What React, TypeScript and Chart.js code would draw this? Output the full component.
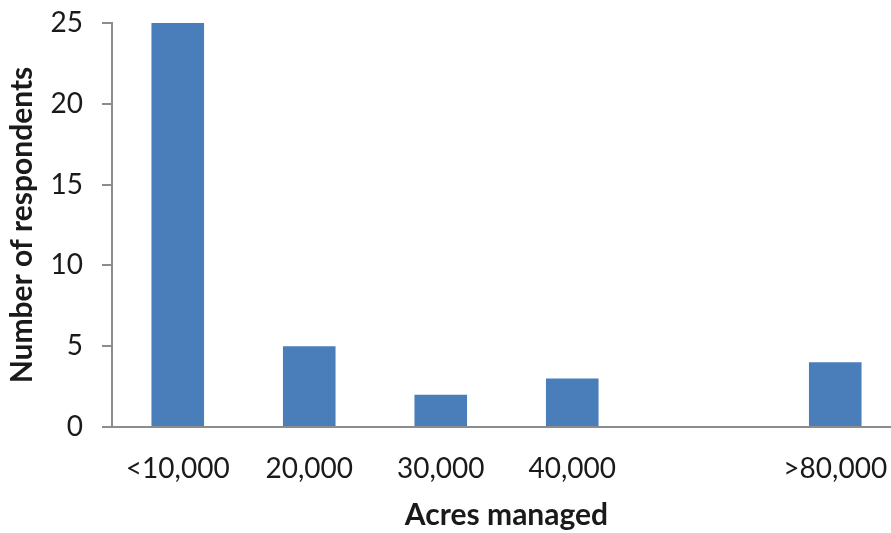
import React, { useEffect, useRef } from "react";
import { Chart, registerables } from "chart.js";

Chart.register(...registerables);

// Survey responses grouped by acreage managed
const categories: string[] = ["<10,000", "20,000", "30,000", "40,000", "", ">80,000"];
const respondents: (number | null)[] = [25, 5, 2, 3, null, 4];
const yTicks: number[] = [0, 5, 10, 15, 20, 25];

const FONT = "Lato, 'Open Sans', sans-serif";
const TEXT = "#1a1a1a";
const AXIS = "#8c8c8c";
const BAR = "#4a7ebb";

export default function App() {
  const ref = useRef<HTMLCanvasElement | null>(null);

  useEffect(() => {
    if (!ref.current) return;
    const chart = new Chart(ref.current, {
      type: "bar",
      data: {
        labels: categories,
        datasets: [
          {
            data: respondents,
            backgroundColor: BAR,
            borderWidth: 0,
            categoryPercentage: 1,
            barPercentage: 0.4,
          },
        ],
      },
      options: {
        responsive: false,
        animation: false,
        layout: { padding: { top: 23, right: 1, bottom: 0, left: 0 } },
        plugins: { legend: { display: false }, tooltip: { enabled: false } },
        scales: {
          x: {
            grid: { display: false, drawTicks: false },
            border: { display: true, color: AXIS, width: 2 },
            ticks: {
              color: TEXT,
              font: { family: FONT, size: 28 },
              padding: 25,
              maxRotation: 0,
              autoSkip: false,
            },
            title: {
              display: true,
              text: "Acres managed",
              color: TEXT,
              font: { family: FONT, size: 30, weight: "bold", lineHeight: 1 },
              padding: { top: 0, bottom: 3 },
            },
            afterFit: (s: any) => {
              s.height = 106;
              s.paddingLeft = 0;
              s.paddingRight = 0;
            },
          },
          y: {
            min: 0,
            max: 25,
            afterBuildTicks: (s: any) => {
              s.ticks = yTicks.map((v) => ({ value: v }));
            },
            grid: {
              drawOnChartArea: false,
              drawTicks: true,
              tickLength: 10,
              color: AXIS,
              lineWidth: 2,
            },
            border: { display: true, color: AXIS, width: 2 },
            ticks: {
              color: TEXT,
              font: { family: FONT, size: 28 },
              padding: 19,
            },
            title: {
              display: true,
              text: "Number of respondents",
              color: TEXT,
              font: { family: FONT, size: 30, weight: "bold", lineHeight: 1 },
              padding: { top: 7, bottom: 0 },
            },
            afterFit: (s: any) => {
              s.width = 112;
              s.paddingTop = 0;
              s.paddingBottom = 0;
            },
          },
        },
      },
    });
    return () => chart.destroy();
  }, []);

  return (
    <div
      style={{
        position: "fixed",
        left: 0,
        top: 0,
        width: 891,
        height: 533,
        overflow: "hidden",
        background: "#ffffff",
      }}
    >
      <canvas ref={ref} width={902} height={533} style={{ display: "block" }} />
    </div>
  );
}
